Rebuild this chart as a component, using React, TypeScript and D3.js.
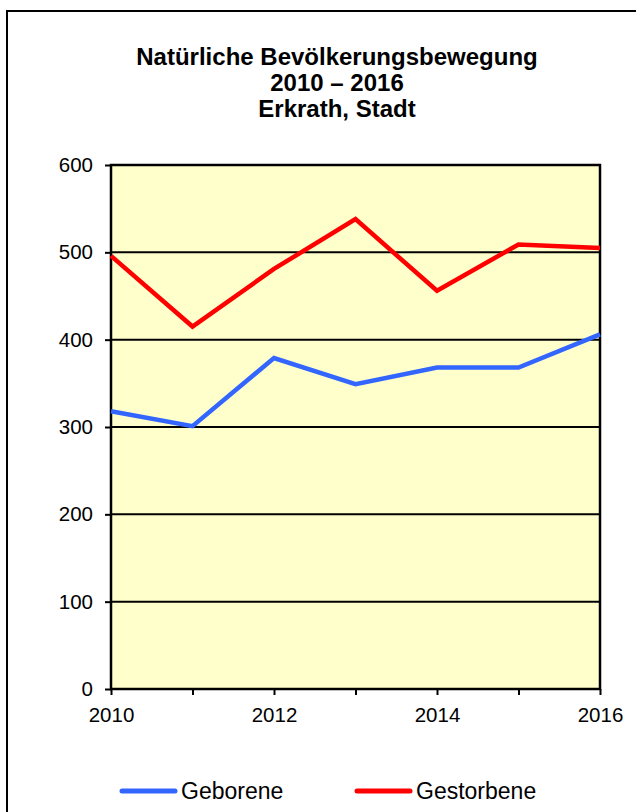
import { useRef, useEffect } from "react";
import * as d3 from "d3";

const WIDTH = 636;
const HEIGHT = 812;

const LEFT = 111;
const RIGHT = 600;
const TOP = 165;
const BOTTOM = 689;

const YEARS = [2010, 2011, 2012, 2013, 2014, 2015, 2016];
const GEBORENE = [318, 301, 379, 349, 368, 368, 406];
const GESTORBENE = [496, 415, 481, 538, 456, 509, 505];
const Y_TICKS = [0, 100, 200, 300, 400, 500, 600];
const X_LABELS = [2010, 2012, 2014, 2016];
const TITLE = ["Natürliche Bevölkerungsbewegung", "2010 – 2016", "Erkrath, Stadt"];

const SERIES = [
  { name: "Geborene", values: GEBORENE, color: "#3366ff", lx: 122 },
  { name: "Gestorbene", values: GESTORBENE, color: "#ff0000", lx: 357 },
];

const FONT = "'Liberation Sans', Arial, sans-serif";

export default function App() {
  const svgRef = useRef<SVGSVGElement>(null);

  useEffect(() => {
    const svg = d3.select(svgRef.current);
    svg.selectAll("*").remove();

    const x = d3.scaleLinear([2010, 2016], [LEFT, RIGHT]);
    const y = d3.scaleLinear([0, 600], [BOTTOM, TOP]);

    // outer frame
    svg.append("rect")
      .attr("x", 7).attr("y", 11)
      .attr("width", 660).attr("height", 840)
      .attr("fill", "#fff")
      .attr("stroke", "#000")
      .attr("stroke-width", 2);

    // title
    svg.append("g")
      .selectAll("text")
      .data(TITLE)
      .join("text")
      .attr("x", 337)
      .attr("y", (_d, i) => 65 + i * 26)
      .attr("text-anchor", "middle")
      .attr("font-family", FONT)
      .attr("font-weight", "bold")
      .attr("font-size", 24)
      .text(d => d);

    // plot area
    svg.append("rect")
      .attr("x", LEFT).attr("y", TOP)
      .attr("width", RIGHT - LEFT).attr("height", BOTTOM - TOP)
      .attr("fill", "#ffffcc");

    // gridlines
    svg.append("g")
      .selectAll("line")
      .data(Y_TICKS.slice(1, -1))
      .join("line")
      .attr("x1", LEFT).attr("x2", RIGHT)
      .attr("y1", d => y(d)).attr("y2", d => y(d))
      .attr("stroke", "#000")
      .attr("stroke-width", 2);

    // y axis
    const gy = svg.append("g")
      .attr("transform", `translate(${LEFT},0)`)
      .call(d3.axisLeft(y).tickValues(Y_TICKS).tickSize(6).tickPadding(12).tickFormat(d3.format("d")));
    gy.select(".domain").remove();
    gy.selectAll("line").attr("stroke", "#000").attr("stroke-width", 2);
    gy.selectAll("text")
      .attr("font-family", FONT)
      .attr("font-size", 20.5)
      .attr("fill", "#000");

    // x axis
    const gx = svg.append("g")
      .attr("transform", `translate(0,${BOTTOM})`)
      .call(d3.axisBottom(x).tickValues(YEARS).tickSize(6).tickPadding(12).tickFormat(d3.format("d")));
    gx.select(".domain").remove();
    gx.selectAll("line").attr("stroke", "#000").attr("stroke-width", 2);
    gx.selectAll("text")
      .attr("font-family", FONT)
      .attr("font-size", 20.5)
      .attr("fill", "#000")
      .text(d => (X_LABELS.includes(d as number) ? String(d) : ""));

    // plot border
    svg.append("rect")
      .attr("x", LEFT).attr("y", TOP)
      .attr("width", RIGHT - LEFT).attr("height", BOTTOM - TOP)
      .attr("fill", "none")
      .attr("stroke", "#000")
      .attr("stroke-width", 2.5);

    const line = d3.line<number>()
      .x((_d, i) => x(YEARS[i]))
      .y(d => y(d));

    svg.append("g")
      .selectAll("path")
      .data(SERIES)
      .join("path")
      .attr("d", d => line(d.values))
      .attr("fill", "none")
      .attr("stroke", d => d.color)
      .attr("stroke-width", 4.5)
      .attr("stroke-linejoin", "miter");

    // legend
    const legend = svg.append("g")
      .selectAll("g")
      .data(SERIES)
      .join("g")
      .attr("transform", d => `translate(${d.lx},791)`);
    legend.append("line")
      .attr("x1", 0).attr("x2", 53)
      .attr("stroke", d => d.color)
      .attr("stroke-width", 5)
      .attr("stroke-linecap", "round");
    legend.append("text")
      .attr("x", 59)
      .attr("y", 7.5)
      .attr("font-family", FONT)
      .attr("font-size", 23)
      .text(d => d.name);
  }, []);

  return (
    <svg
      ref={svgRef}
      width={WIDTH}
      height={HEIGHT}
      style={{ position: "absolute", left: 0, top: 0, display: "block" }}
    />
  );
}
